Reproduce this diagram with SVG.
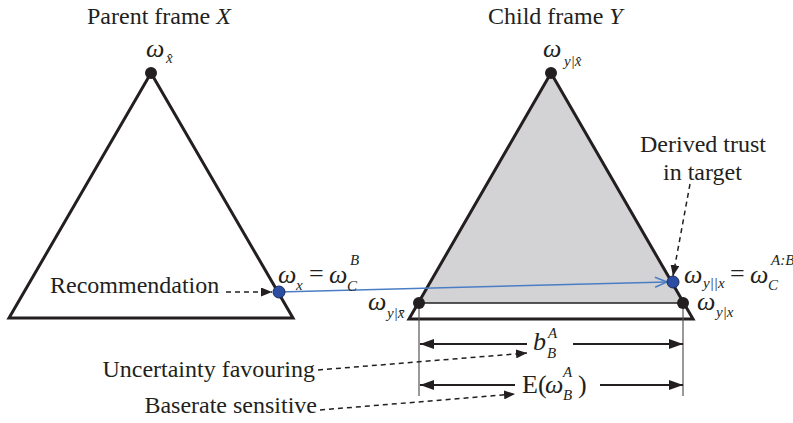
<svg xmlns="http://www.w3.org/2000/svg" width="793" height="423" viewBox="0 0 793 423">
<style>
text{font-family:"Liberation Serif","Times New Roman",serif;fill:#231f20}
.t{font-size:24px}
.m{font-size:26px;font-style:italic}
.n{font-size:26px}
.s{font-size:15px;font-style:italic}
.tri{fill:none;stroke:#231f20;stroke-width:3;stroke-linejoin:miter}
.dim{stroke:#231f20;stroke-width:2;fill:none}
.dash{stroke:#231f20;stroke-width:1.5;stroke-dasharray:5 4;fill:none}
.vl{stroke:#555;stroke-width:1.2}
.dot{fill:#231f20}
.bdot{fill:#2b4ea2;stroke:#1a2a5a;stroke-width:1}
.blue{stroke:#4a7dc4;stroke-width:1.5;fill:none}
</style>
<defs>
<marker id="ah" markerWidth="14" markerHeight="10" refX="14" refY="5" orient="auto" markerUnits="userSpaceOnUse"><path d="M0,0L14,5L0,10z" fill="#231f20"/></marker>
<marker id="ahs" markerWidth="11" markerHeight="9" refX="11" refY="4.5" orient="auto" markerUnits="userSpaceOnUse"><path d="M0,0L11,4.5L0,9z" fill="#231f20"/></marker>
<marker id="bh" markerWidth="14" markerHeight="12" refX="13" refY="6" orient="auto" markerUnits="userSpaceOnUse"><path d="M1,1L13,6L1,11" fill="none" stroke="#4a7dc4" stroke-width="1.5"/></marker>
</defs>

<g id="parent-frame">
<text class="t" x="87" y="24">Parent frame <tspan font-style="italic">X</tspan></text>
<polygon class="tri" points="151,73 9,318 293,318"/>
</g>

<g id="child-frame">
<text class="t" x="488" y="24">Child frame <tspan font-style="italic">Y</tspan></text>
<polygon points="551,73 418.2,303 683.8,303" fill="#d3d3d5"/>
<line x1="418" y1="303" x2="684" y2="303" stroke="#231f20" stroke-width="1.5"/>
<polygon class="tri" points="551,73 409,319 693,319"/>
</g>

<g id="dimension-lines">
<line class="vl" x1="419" y1="303" x2="419" y2="396"/>
<line class="vl" x1="683" y1="303" x2="683" y2="396"/>
</g>

<g id="connectors">
<line class="blue" x1="279" y1="292" x2="667" y2="282" marker-end="url(#bh)"/>
<line class="dim" x1="527" y1="344" x2="420" y2="344" marker-end="url(#ah)"/>
<line class="dim" x1="573" y1="344" x2="683" y2="344" marker-end="url(#ah)"/>
<line class="dim" x1="515" y1="385" x2="420" y2="385" marker-end="url(#ah)"/>
<line class="dim" x1="600" y1="385" x2="683" y2="385" marker-end="url(#ah)"/>
<line class="dash" x1="226" y1="292" x2="272" y2="292" marker-end="url(#ahs)"/>
<line class="dash" x1="318" y1="370" x2="527" y2="353" marker-end="url(#ahs)"/>
<line class="dash" x1="320" y1="410" x2="515" y2="394" marker-end="url(#ahs)"/>
<line class="dash" x1="690" y1="184" x2="673" y2="276" marker-end="url(#ahs)"/>
</g>

<g id="node-x-hat">
<circle class="dot" cx="151" cy="73" r="6"/>
<text class="m" x="146" y="57">ω</text><text class="s" x="166" y="63">x̂</text>
</g>

<g id="node-y-given-xhat">
<circle class="dot" cx="551" cy="73" r="6"/>
<text class="m" x="543" y="57">ω</text><text class="s" x="564" y="66">y|x̂</text>
</g>

<g id="node-recommendation">
<circle class="bdot" cx="279" cy="292" r="6"/>
<text class="m" x="278" y="283">ω</text><text class="s" x="296" y="290">x</text>
<text class="n" x="309" y="282">=</text>
<text class="m" x="329" y="283">ω</text><text class="s" x="347" y="291">C</text><text class="s" x="350" y="265">B</text>
<text class="t" x="50" y="293">Recommendation</text>
</g>

<g id="node-y-given-xbar">
<circle class="dot" cx="419" cy="303" r="6"/>
<text class="m" x="368" y="310">ω</text><text class="s" x="387" y="318">y|x̄</text>
</g>

<g id="node-derived">
<circle class="bdot" cx="673" cy="282" r="6"/>
<text class="m" x="684" y="283">ω</text><text class="s" x="703" y="288">y||x</text>
<text class="n" x="730" y="282">=</text>
<text class="m" x="750" y="283">ω</text><text class="s" x="768" y="290">C</text><text class="s" x="771" y="265" font-size="14">A:B</text>
<text class="t" x="640" y="152">Derived trust</text>
<text class="t" x="663" y="180">in target</text>
</g>

<g id="node-y-given-x">
<circle class="dot" cx="683" cy="303" r="6"/>
<text class="m" x="697" y="310">ω</text><text class="s" x="716" y="317">y|x</text>
</g>

<g id="labels">
<text class="m" x="533" y="350">b</text><text class="s" x="547" y="358">B</text><text class="s" x="548" y="338">A</text>
<text class="n" x="522" y="393">E(</text><text class="m" x="545" y="393">ω</text><text class="s" x="563" y="400">B</text><text class="s" x="563" y="377">A</text><text class="n" x="578" y="393">)</text>
<text class="t" x="315" y="377" text-anchor="end">Uncertainty favouring</text>
<text class="t" x="317" y="413" text-anchor="end">Baserate sensitive</text>
</g>
</svg>
